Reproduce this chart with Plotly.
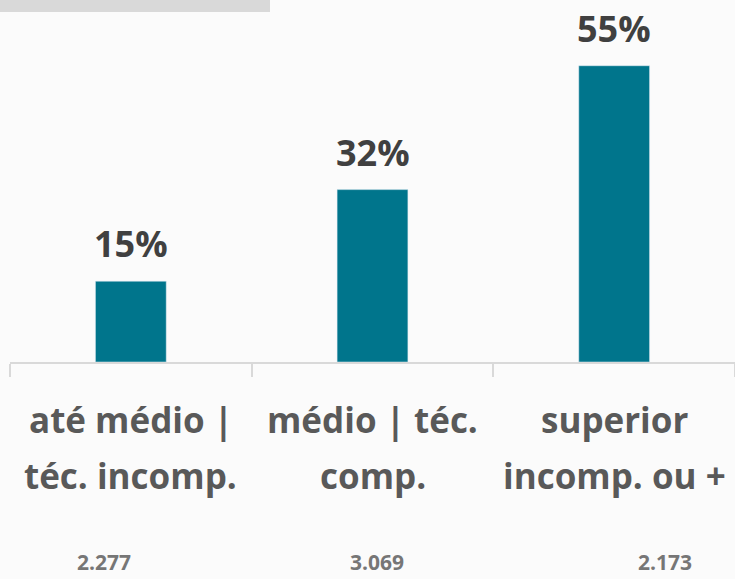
import plotly.graph_objects as go

categories = ["até médio |<br>téc. incomp.", "médio | téc.<br>comp.", "superior<br>incomp. ou +"]
cat_line1 = ["até médio |", "médio | téc.", "superior"]
cat_line2 = ["téc. incomp.", "comp.", "incomp. ou +"]
values = [15, 32, 55]
value_labels = ["15%", "32%", "55%"]
base_counts = ["2.277", "3.069", "2.173"]

# styling
BAR = "#00758C"
count_xshift = [-27, 4, 51]
FONT = "Open Sans"

fig = go.Figure()
fig.add_trace(go.Bar(x=categories, y=values, marker_color=BAR, width=0.293,
                     hoverinfo="skip"))

for c, v, lab in zip(categories, values, value_labels):
    fig.add_annotation(x=c, y=v, text=f"<b>{lab}</b>", showarrow=False,
                       yanchor="bottom", yshift=11,
                       font=dict(family=FONT, size=36, color="#404040"))
for c, l1, l2 in zip(categories, cat_line1, cat_line2):
    fig.add_annotation(x=c, y=0, yref="paper", text=f"<b>{l1}</b>", showarrow=False,
                       yanchor="middle", yshift=-57,
                       font=dict(family=FONT, size=35, color="#595959"))
    fig.add_annotation(x=c, y=0, yref="paper", text=f"<b>{l2}</b>", showarrow=False,
                       yanchor="middle", yshift=-113,
                       font=dict(family=FONT, size=35, color="#595959"))
for c, n, dx in zip(categories, base_counts, count_xshift):
    fig.add_annotation(x=c, y=0, yref="paper", text=f"<b>{n}</b>", showarrow=False,
                       yanchor="middle", yshift=-200, xshift=dx,
                       font=dict(family=FONT, size=21, color="#767676"))

fig.add_shape(type="rect", xref="paper", yref="paper", x0=-10/725, x1=260/725,
              y0=1, y1=1 - 12/362, fillcolor="#D9D9D9", line_width=0, layer="above")

fig.update_layout(
    width=735, height=579,
    margin=dict(l=10, r=0, t=0, b=217),
    paper_bgcolor="#FBFBFB", plot_bgcolor="#FBFBFB",
    showlegend=False,
    xaxis=dict(showticklabels=False, showline=True, linecolor="#D9D9D9", linewidth=2,
               ticks="outside", tickson="boundaries", ticklen=13, tickcolor="#D9D9D9",
               tickwidth=2, showgrid=False, range=[-0.5, 2.5], fixedrange=True),
    yaxis=dict(visible=False, range=[0, 67.2], showgrid=False, zeroline=False),
)

fig.write_html("out.html", config={"displayModeBar": False},
               post_script="document.body.style.margin='0';document.body.style.background='#FBFBFB';")
